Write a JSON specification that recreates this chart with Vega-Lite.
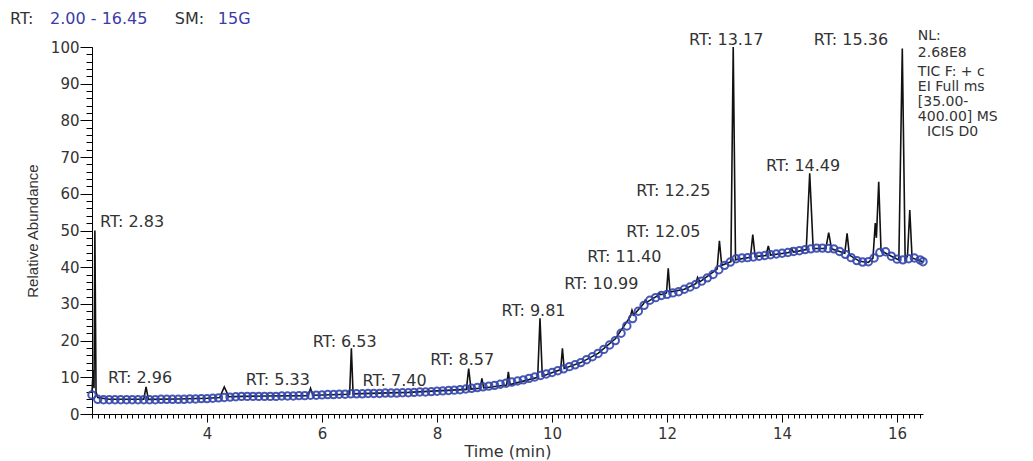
{
  "$schema": "https://vega.github.io/schema/vega-lite/v6.json",
  "autosize": {"type": "none"},
  "width": 831,
  "height": 367,
  "padding": {"left": 92, "top": 47, "right": 110, "bottom": 47},
  "config": {"view": {"stroke": null}, "font": "DejaVu Sans"},
  "datasets": {
    "tic": [
      {"t": 2.0, "a": 6}, {"t": 2.02, "a": 12}, {"t": 2.035, "a": 7}, {"t": 2.05, "a": 50}, {"t": 2.07, "a": 6},
      {"t": 2.1, "a": 4.5}, {"t": 2.3, "a": 4}, {"t": 2.9, "a": 4}, {"t": 2.94, "a": 7.4}, {"t": 2.98, "a": 4},
      {"t": 3.5, "a": 4.1}, {"t": 4.0, "a": 4.3}, {"t": 4.22, "a": 4.5}, {"t": 4.3, "a": 7.4}, {"t": 4.38, "a": 4.7},
      {"t": 4.6, "a": 4.8}, {"t": 5.0, "a": 4.9}, {"t": 5.76, "a": 5.0}, {"t": 5.8, "a": 7}, {"t": 5.84, "a": 5.1},
      {"t": 6.48, "a": 5.4}, {"t": 6.51, "a": 17.9}, {"t": 6.54, "a": 5.5}, {"t": 7.0, "a": 5.7}, {"t": 7.5, "a": 5.9},
      {"t": 8.0, "a": 6.3}, {"t": 8.51, "a": 6.7}, {"t": 8.55, "a": 12.4}, {"t": 8.59, "a": 6.8}, {"t": 8.75, "a": 7.0},
      {"t": 8.78, "a": 9.7}, {"t": 8.81, "a": 7.1}, {"t": 9.21, "a": 7.9}, {"t": 9.24, "a": 11.5}, {"t": 9.27, "a": 8.0},
      {"t": 9.75, "a": 10.0}, {"t": 9.79, "a": 26.1}, {"t": 9.83, "a": 10.3}, {"t": 10.15, "a": 12.1}, {"t": 10.18, "a": 17.9},
      {"t": 10.21, "a": 12.4}, {"t": 10.5, "a": 14.0}, {"t": 10.8, "a": 16.5}, {"t": 11.1, "a": 20.5}, {"t": 11.36, "a": 26.5},
      {"t": 11.39, "a": 28.3}, {"t": 11.42, "a": 27}, {"t": 11.59, "a": 30}, {"t": 11.62, "a": 31}, {"t": 11.65, "a": 30.5},
      {"t": 11.83, "a": 32.2}, {"t": 11.86, "a": 32.9}, {"t": 11.89, "a": 32.5}, {"t": 11.99, "a": 33}, {"t": 12.02, "a": 39.7},
      {"t": 12.05, "a": 33.2}, {"t": 12.3, "a": 34}, {"t": 12.5, "a": 35.5}, {"t": 12.53, "a": 37.2}, {"t": 12.57, "a": 36},
      {"t": 12.87, "a": 39.5}, {"t": 12.91, "a": 47.2}, {"t": 12.95, "a": 40.5}, {"t": 13.11, "a": 41.5}, {"t": 13.15, "a": 100},
      {"t": 13.19, "a": 42}, {"t": 13.45, "a": 42.7}, {"t": 13.49, "a": 48.9}, {"t": 13.53, "a": 42.9}, {"t": 13.72, "a": 43.2},
      {"t": 13.76, "a": 45.8}, {"t": 13.8, "a": 43.3}, {"t": 14.12, "a": 44}, {"t": 14.16, "a": 45.1}, {"t": 14.2, "a": 44.1},
      {"t": 14.42, "a": 44.8}, {"t": 14.48, "a": 65.6}, {"t": 14.54, "a": 45.1}, {"t": 14.76, "a": 45.1}, {"t": 14.81, "a": 49.4},
      {"t": 14.86, "a": 45}, {"t": 15.09, "a": 43.8}, {"t": 15.13, "a": 49.2}, {"t": 15.17, "a": 43.3}, {"t": 15.35, "a": 41.6},
      {"t": 15.5, "a": 41.3}, {"t": 15.58, "a": 42.5}, {"t": 15.62, "a": 52}, {"t": 15.64, "a": 48}, {"t": 15.68, "a": 63.3},
      {"t": 15.72, "a": 44.5}, {"t": 15.9, "a": 43}, {"t": 16.03, "a": 42}, {"t": 16.09, "a": 99.6}, {"t": 16.14, "a": 42},
      {"t": 16.18, "a": 43}, {"t": 16.22, "a": 55.6}, {"t": 16.26, "a": 42.5}, {"t": 16.45, "a": 41.5}
    ],
    "base": [
      {"t": 2.0, "b": 5.2}, {"t": 2.1, "b": 4.0}, {"t": 2.2, "b": 3.9}, {"t": 2.3, "b": 3.9}, {"t": 2.4, "b": 3.9},
      {"t": 2.5, "b": 3.9}, {"t": 2.6, "b": 3.9}, {"t": 2.7, "b": 3.9}, {"t": 2.8, "b": 3.9}, {"t": 2.9, "b": 3.9},
      {"t": 3.0, "b": 3.9}, {"t": 3.1, "b": 3.9}, {"t": 3.2, "b": 4.0}, {"t": 3.3, "b": 4.0}, {"t": 3.4, "b": 4.0},
      {"t": 3.5, "b": 4.0}, {"t": 3.6, "b": 4.0}, {"t": 3.7, "b": 4.1}, {"t": 3.8, "b": 4.1}, {"t": 3.9, "b": 4.2},
      {"t": 4.0, "b": 4.2}, {"t": 4.1, "b": 4.3}, {"t": 4.2, "b": 4.4}, {"t": 4.3, "b": 4.5}, {"t": 4.4, "b": 4.6},
      {"t": 4.5, "b": 4.7}, {"t": 4.6, "b": 4.8}, {"t": 4.7, "b": 4.8}, {"t": 4.8, "b": 4.8}, {"t": 4.9, "b": 4.8},
      {"t": 5.0, "b": 4.8}, {"t": 5.1, "b": 4.8}, {"t": 5.2, "b": 4.8}, {"t": 5.3, "b": 4.9}, {"t": 5.4, "b": 4.9},
      {"t": 5.5, "b": 4.9}, {"t": 5.6, "b": 5.0}, {"t": 5.7, "b": 5.0}, {"t": 5.8, "b": 5.1}, {"t": 5.9, "b": 5.1},
      {"t": 6.0, "b": 5.2}, {"t": 6.1, "b": 5.3}, {"t": 6.2, "b": 5.3}, {"t": 6.3, "b": 5.4}, {"t": 6.4, "b": 5.4},
      {"t": 6.5, "b": 5.5}, {"t": 6.6, "b": 5.5}, {"t": 6.7, "b": 5.5}, {"t": 6.8, "b": 5.6}, {"t": 6.9, "b": 5.6},
      {"t": 7.0, "b": 5.6}, {"t": 7.1, "b": 5.7}, {"t": 7.2, "b": 5.7}, {"t": 7.3, "b": 5.7}, {"t": 7.4, "b": 5.8},
      {"t": 7.5, "b": 5.8}, {"t": 7.6, "b": 5.9}, {"t": 7.7, "b": 6.0}, {"t": 7.8, "b": 6.0}, {"t": 7.9, "b": 6.1},
      {"t": 8.0, "b": 6.2}, {"t": 8.1, "b": 6.3}, {"t": 8.2, "b": 6.4}, {"t": 8.3, "b": 6.5}, {"t": 8.4, "b": 6.6},
      {"t": 8.5, "b": 6.8}, {"t": 8.6, "b": 7.0}, {"t": 8.7, "b": 7.2}, {"t": 8.8, "b": 7.4}, {"t": 8.9, "b": 7.6},
      {"t": 9.0, "b": 7.8}, {"t": 9.1, "b": 8.1}, {"t": 9.2, "b": 8.4}, {"t": 9.3, "b": 8.7}, {"t": 9.4, "b": 9.0},
      {"t": 9.5, "b": 9.3}, {"t": 9.6, "b": 9.7}, {"t": 9.7, "b": 10.1}, {"t": 9.8, "b": 10.5}, {"t": 9.9, "b": 10.9},
      {"t": 10.0, "b": 11.3}, {"t": 10.1, "b": 11.8}, {"t": 10.2, "b": 12.3}, {"t": 10.3, "b": 12.9}, {"t": 10.4, "b": 13.4},
      {"t": 10.5, "b": 14.0}, {"t": 10.6, "b": 14.8}, {"t": 10.7, "b": 15.6}, {"t": 10.8, "b": 16.5}, {"t": 10.9, "b": 17.6},
      {"t": 11.0, "b": 18.8}, {"t": 11.1, "b": 20.0}, {"t": 11.2, "b": 22.0}, {"t": 11.3, "b": 24.0}, {"t": 11.4, "b": 26.0},
      {"t": 11.5, "b": 28.0}, {"t": 11.6, "b": 29.6}, {"t": 11.7, "b": 31.0}, {"t": 11.8, "b": 31.7}, {"t": 11.9, "b": 32.3},
      {"t": 12.0, "b": 32.6}, {"t": 12.1, "b": 33.0}, {"t": 12.2, "b": 33.3}, {"t": 12.3, "b": 34.0}, {"t": 12.4, "b": 34.6},
      {"t": 12.5, "b": 35.3}, {"t": 12.6, "b": 36.2}, {"t": 12.7, "b": 37.1}, {"t": 12.8, "b": 38.0}, {"t": 12.9, "b": 39.3},
      {"t": 13.0, "b": 40.5}, {"t": 13.1, "b": 41.4}, {"t": 13.2, "b": 42.3}, {"t": 13.3, "b": 42.5}, {"t": 13.4, "b": 42.6},
      {"t": 13.5, "b": 42.8}, {"t": 13.6, "b": 43.0}, {"t": 13.7, "b": 43.2}, {"t": 13.8, "b": 43.4}, {"t": 13.9, "b": 43.6},
      {"t": 14.0, "b": 43.8}, {"t": 14.1, "b": 44.0}, {"t": 14.2, "b": 44.3}, {"t": 14.3, "b": 44.5}, {"t": 14.4, "b": 44.8},
      {"t": 14.5, "b": 45.0}, {"t": 14.6, "b": 45.2}, {"t": 14.7, "b": 45.2}, {"t": 14.8, "b": 45.1}, {"t": 14.9, "b": 45.0},
      {"t": 15.0, "b": 44.3}, {"t": 15.1, "b": 43.5}, {"t": 15.2, "b": 42.6}, {"t": 15.3, "b": 41.8}, {"t": 15.4, "b": 41.4},
      {"t": 15.5, "b": 41.5}, {"t": 15.6, "b": 42.5}, {"t": 15.7, "b": 44.0}, {"t": 15.8, "b": 44.2}, {"t": 15.9, "b": 43.0},
      {"t": 16.0, "b": 42.2}, {"t": 16.1, "b": 42.0}, {"t": 16.2, "b": 42.3}, {"t": 16.3, "b": 42.5}, {"t": 16.4, "b": 42.0},
      {"t": 16.45, "b": 41.5}
    ],
    "labels": [
      {"t": 2.139, "y": 52.3, "label": "RT: 2.83"},
      {"t": 2.278, "y": 9.8, "label": "RT: 2.96"},
      {"t": 4.674, "y": 9.3, "label": "RT: 5.33"},
      {"t": 5.837, "y": 19.6, "label": "RT: 6.53"},
      {"t": 6.705, "y": 9.0, "label": "RT: 7.40"},
      {"t": 7.88, "y": 14.7, "label": "RT: 8.57"},
      {"t": 9.12, "y": 28.1, "label": "RT: 9.81"},
      {"t": 10.21, "y": 35.4, "label": "RT: 10.99"},
      {"t": 10.61, "y": 42.8, "label": "RT: 11.40"},
      {"t": 11.29, "y": 49.6, "label": "RT: 12.05"},
      {"t": 11.462, "y": 60.8, "label": "RT: 12.25"},
      {"t": 12.382, "y": 101.9, "label": "RT: 13.17"},
      {"t": 13.719, "y": 67.6, "label": "RT: 14.49"},
      {"t": 14.552, "y": 101.9, "label": "RT: 15.36"}
    ],
    "info": [
      {"t": 16.36, "y": 103.0, "line": "NL:"},
      {"t": 16.36, "y": 98.3, "line": "2.68E8"},
      {"t": 16.36, "y": 93.3, "line": "TIC F: + c"},
      {"t": 16.36, "y": 89.1, "line": "EI Full ms"},
      {"t": 16.36, "y": 84.9, "line": "[35.00-"},
      {"t": 16.36, "y": 80.9, "line": "400.00]  MS"},
      {"t": 16.52, "y": 76.8, "line": "ICIS D0"}
    ],
    "header": [
      {"t": 0.576, "y": 107.6, "text": "RT:", "part": "label"},
      {"t": 1.271, "y": 107.6, "text": "2.00 - 16.45", "part": "value"},
      {"t": 3.441, "y": 107.6, "text": "SM:", "part": "label"},
      {"t": 4.188, "y": 107.6, "text": "15G", "part": "value"}
    ]
  },
  "layer": [
    {
      "data": {"name": "tic"},
      "mark": {"type": "line", "color": "#111111", "strokeWidth": 1.6},
      "encoding": {
        "x": {"field": "t", "type": "quantitative", "scale": {"domain": [2, 16.45], "nice": false, "zero": false},
          "axis": {"orient": "bottom", "title": "Time (min)", "values": [4, 6, 8, 10, 12, 14, 16], "grid": false,
            "domainColor": "#000", "tickColor": "#000", "tickSize": 8, "labelFont": "DejaVu Sans", "labelFontSize": 15,
            "labelColor": "#333", "labelPadding": 4, "titleFont": "DejaVu Sans", "titleFontSize": 16, "titleFontWeight": "normal",
            "titleColor": "#333", "titlePadding": 2}},
        "y": {"field": "a", "type": "quantitative", "scale": {"domain": [0, 100], "nice": false},
          "axis": {"orient": "left", "title": "Relative Abundance", "values": [0, 10, 20, 30, 40, 50, 60, 70, 80, 90, 100], "grid": false,
            "domainColor": "#000", "tickColor": "#000", "tickSize": 12, "labelFont": "DejaVu Sans", "labelFontSize": 15,
            "labelColor": "#333", "labelPadding": 1, "titleFont": "Liberation Sans", "titleFontSize": 15, "titleFontWeight": "normal",
            "titleColor": "#333", "titlePadding": 10}}
      }
    },
    {
      "data": {"name": "base"},
      "mark": {"type": "point", "shape": "circle", "filled": false, "size": 55, "stroke": "#3446ad", "strokeWidth": 2, "opacity": 0.9},
      "encoding": {
        "x": {"field": "t", "type": "quantitative", "scale": {"domain": [2, 16.45], "nice": false, "zero": false},
          "axis": {"orient": "bottom", "title": null, "tickCount": 145, "labels": false, "domain": false, "grid": false,
            "tickColor": "#000", "tickSize": 4}},
        "y": {"field": "b", "type": "quantitative", "scale": {"domain": [0, 100], "nice": false},
          "axis": {"orient": "left", "title": null, "tickCount": 50, "labels": false, "domain": false, "grid": false,
            "tickColor": "#000", "tickSize": 6}}
      }
    },
    {
      "data": {"name": "labels"},
      "mark": {"type": "text", "align": "left", "baseline": "middle", "font": "DejaVu Sans", "fontSize": 16, "color": "#333"},
      "encoding": {
        "x": {"field": "t", "type": "quantitative", "axis": null},
        "y": {"field": "y", "type": "quantitative", "axis": null},
        "text": {"field": "label"}
      }
    },
    {
      "data": {"name": "info"},
      "mark": {"type": "text", "align": "left", "baseline": "middle", "font": "DejaVu Sans", "fontSize": 14, "color": "#333"},
      "encoding": {
        "x": {"field": "t", "type": "quantitative", "axis": null},
        "y": {"field": "y", "type": "quantitative", "axis": null},
        "text": {"field": "line"}
      }
    },
    {
      "data": {"name": "header"},
      "mark": {"type": "text", "align": "left", "baseline": "middle", "font": "DejaVu Sans", "fontSize": 16},
      "encoding": {
        "x": {"field": "t", "type": "quantitative", "axis": null},
        "y": {"field": "y", "type": "quantitative", "axis": null},
        "text": {"field": "text"},
        "color": {"field": "part", "type": "nominal", "scale": {"domain": ["label", "value"], "range": ["#333333", "#3b3ba8"]}, "legend": null}
      }
    }
  ],
  "resolve": {"axis": {"x": "independent", "y": "independent"}}
}
